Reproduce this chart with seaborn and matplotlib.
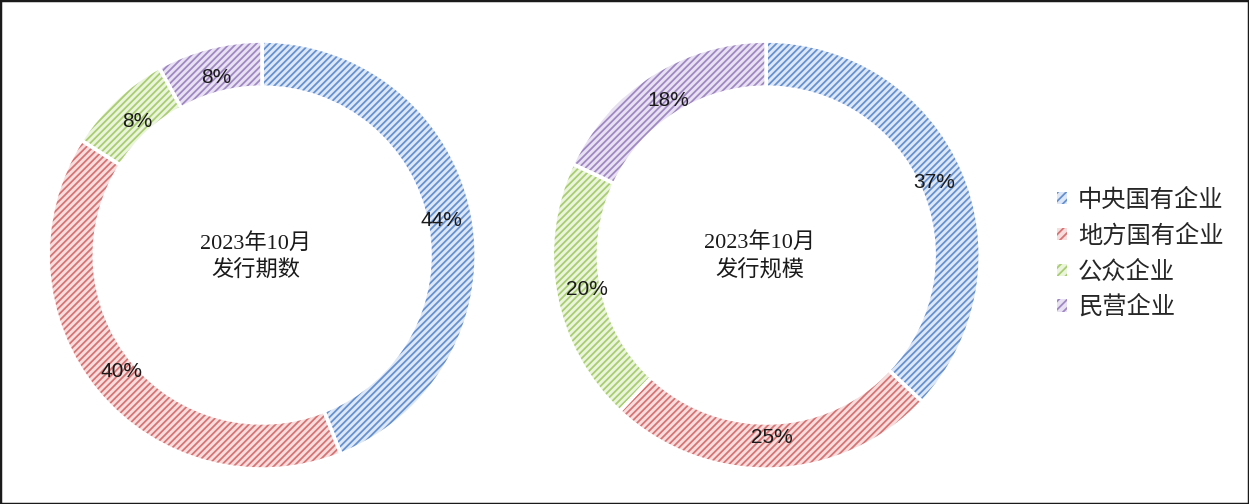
import seaborn as sns
import matplotlib.pyplot as plt
from matplotlib.patches import Patch, Rectangle

categories = ['中央国有企业', '地方国有企业', '公众企业', '民营企业']
count_share = [44, 40, 8, 8]
size_share = [37, 25, 20, 18]
centre_titles = ['2023年10月\n发行期数', '2023年10月\n发行规模']

hatch_colors = ['#6590d2', '#d97272', '#a8ce70', '#a087c3']
face_colors = ['#dde7f6', '#f7dede', '#ebf4dc', '#e8e1f2']

sns.set_style('white')
plt.rcParams['font.family'] = ['Liberation Serif', 'Noto Sans CJK SC', 'DejaVu Sans']
plt.rcParams['hatch.linewidth'] = 1.3

fig = plt.figure(figsize=(12.49, 5.04), dpi=100)
fig.patches.append(Rectangle((0, 0), 1, 1, transform=fig.transFigure,
                             fill=False, edgecolor='#1a1a1a', linewidth=2.5))

positions = [[0.0384, 0.0694, 0.343, 0.849], [0.442, 0.0694, 0.343, 0.849]]

for pos, values, title in zip(positions, [count_share, size_share], centre_titles):
    ax = fig.add_axes(pos)
    wedges, _ = ax.pie(values, startangle=90, counterclock=False, radius=1,
                       colors=face_colors, wedgeprops=dict(width=0.215, linewidth=0))
    for w, hc in zip(wedges, hatch_colors):
        w.set_hatch('/////')
        w.set_edgecolor(hc)
    # white separators on top
    ax.pie(values, startangle=90, counterclock=False, radius=1,
           colors=['none'] * 4,
           wedgeprops=dict(width=0.215, linewidth=2.5, edgecolor='white'),
           autopct='%d%%', pctdistance=0.855,
           textprops=dict(fontsize=15, family=['Liberation Sans', 'DejaVu Sans'],
                          color='#1a1a1a'))
    ax.text(-0.03, -0.01, title, ha='center', va='center', fontsize=16,
            color='#1a1a1a', linespacing=1.45)
    ax.set_xlim(-1, 1)
    ax.set_ylim(-1, 1)
    ax.set_aspect('equal')
    ax.axis('off')

handles = [Patch(facecolor=fc, edgecolor=hc, hatch='////', linewidth=0)
           for fc, hc in zip(face_colors, hatch_colors)]
fig.legend(handles, categories, loc='center left', bbox_to_anchor=(0.829, 0.497),
           frameon=False, handlelength=0.4, handleheight=0.4,
           handletextpad=0.45, labelspacing=0.4,
           prop=dict(family=['Noto Sans CJK SC', 'DejaVu Sans'], size=17.5))

fig.savefig('out.png', dpi=100)
